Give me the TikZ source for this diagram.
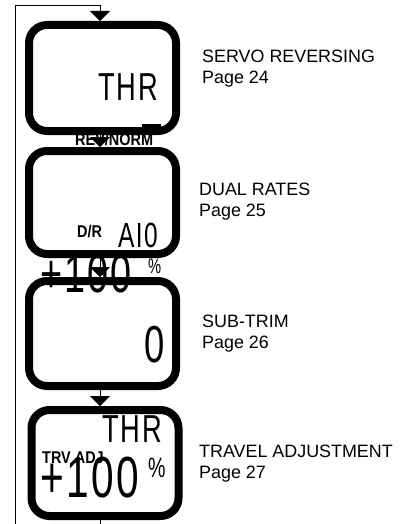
\documentclass[tikz,border=0pt]{standalone}
\usepackage{fontspec}
\setmainfont{Liberation Sans}
\newfontfamily\lcdfont{Liberation Sans}[FakeStretch=0.7,LetterSpace=4]
\newfontfamily\lcdbold{Liberation Sans Bold}[FakeStretch=0.85]
\usetikzlibrary{arrows.meta}

\begin{document}
\begin{tikzpicture}[x=1pt,y=-1pt,
    screen/.style={draw,line width=8pt,rounded corners=18pt,minimum width=147pt,inner sep=0pt},
    flow/.style={line width=1pt,-{Triangle[width=20pt,length=10pt]}},
    lcd/.style={inner sep=0pt,font=\lcdfont\fontsize{#1}{#1}\selectfont},
    tag/.style={inner sep=0pt,font=\lcdbold\fontsize{17}{17}\selectfont},
    info/.style={inner sep=0pt,align=left,anchor=base west,font=\fontsize{17.9}{21}\selectfont}]
    \useasboundingbox (0,0) rectangle (401,524);
    \coordinate (looptop) at (15,6);
    \coordinate (loopbot) at (15,540);

    \node[screen,minimum height=106pt] (thr) at (102.5,78) {};
    \node[screen,minimum height=103pt] (dr) at (102.5,202.5) {};
    \node[screen,minimum height=105pt] (sub) at (102.5,333.5) {};
    \node[screen,minimum height=106pt] (trv) at (105,463) {};
    \fill (142,124) rectangle (161,131);

    \node[lcd=39,anchor=base east] (thrch) at (158,100) {THR};
    \node[tag,anchor=base west] (revnorm) at (75,145) {REV/NORM};
    \node[tag,anchor=base west] (drtag) at (77,237) {D/R};
    \node[lcd=35,anchor=base east] (drch) at (158,247) {AI0};
    \node[lcd=54,anchor=base west] (drval) at (40,292) {+100};
    \node[lcd=21,anchor=base west] (drpct) at (148,273) {\%};
    \node[lcd=52,anchor=base east] (subval) at (165,362) {0};
    \node[lcd=39,anchor=base east] (trvch) at (162,442) {THR};
    \node[tag,anchor=base west] (trvtag) at (42,463) {TRV ADJ};
    \node[lcd=58,anchor=base west] (trvval) at (40,497) {+100};
    \node[lcd=28,anchor=base west] (trvpct) at (148,477) {\%};

    % base anchor sits on the second line
    \node[info] (revlbl) at (202,84) {SERVO REVERSING\\Page 24};
    \node[info] (drlbl) at (199,216) {DUAL RATES\\Page 25};
    \node[info] (sublbl) at (202,348) {SUB-TRIM\\Page 26};
    \node[info] (trvlbl) at (199,478) {TRAVEL ADJUSTMENT\\Page 27};

    \draw[flow] ([xshift=-2.5pt]thr.south) -- ([xshift=-2.5pt]dr.north);
    \draw[flow] ([xshift=-2.5pt]dr.south) -- ([xshift=-2.5pt]sub.north);
    \draw[flow] ([xshift=-2.5pt]sub.south) -- ([xshift=-5pt]trv.north);
    \draw[flow] ([xshift=-5pt]trv.south) |- (loopbot) -- (looptop) -| ([xshift=-2.5pt]thr.north);
\end{tikzpicture}
\end{document}
